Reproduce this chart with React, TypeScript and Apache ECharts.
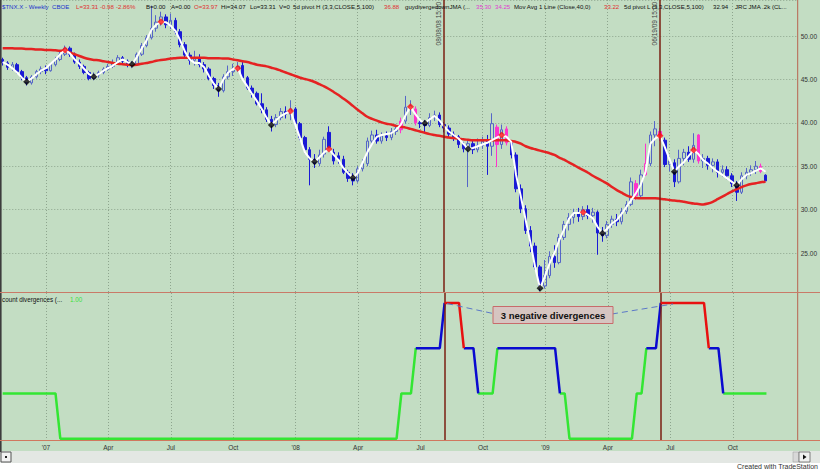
import React, { useEffect, useRef } from 'react';
import * as echarts from 'echarts';

// ---- categories (weekly bars, Fridays) ----
const START = Date.UTC(2006, 10, 3);
const N_CATS = 166; // 160 bars + empty space on the right
const categories: string[] = [];
for (let i = 0; i < N_CATS; i++) {
  categories.push(new Date(START + i * 7 * 86400000).toISOString().slice(0, 10));
}

const quarterLabels: Record<string, string> = {
  '2007-01-05': "'07", '2007-04-06': 'Apr', '2007-07-06': 'Jul', '2007-10-05': 'Oct',
  '2008-01-04': "'08", '2008-04-04': 'Apr', '2008-07-04': 'Jul', '2008-10-03': 'Oct',
  '2009-01-02': "'09", '2009-04-03': 'Apr', '2009-07-03': 'Jul', '2009-10-02': 'Oct',
};

// ---- weekly candles [open, close, low, high] ----
const candles: number[][] = [
  [47.3, 46.9, 46.6, 47.5], [46.9, 46.4, 46.1, 47.1], [46.4, 46.7, 46.0, 47.0], [46.7, 45.9, 45.7, 46.9], [45.9, 45.2, 44.9, 46.1],
  [45.2, 44.6, 44.3, 45.4], [44.6, 45.3, 44.4, 45.5], [45.3, 45.9, 45.1, 46.1], [45.9, 46.2, 45.6, 46.5], [46.2, 46.0, 45.6, 46.6],
  [46.0, 46.7, 45.9, 46.9], [46.7, 47.3, 46.5, 47.6], [47.3, 47.9, 47.1, 48.2], [47.9, 48.6, 47.7, 48.9], [48.6, 47.9, 47.6, 48.8],
  [47.9, 47.0, 46.8, 48.1], [47.0, 46.5, 46.2, 47.3], [46.5, 45.8, 45.6, 46.7], [45.8, 45.1, 44.9, 46.0], [45.1, 45.5, 44.9, 45.8],
  [45.5, 45.8, 45.2, 46.0], [45.8, 46.2, 45.6, 46.4], [46.2, 46.5, 46.0, 46.8], [46.5, 46.9, 46.3, 47.3], [46.9, 47.5, 46.7, 47.8],
  [47.5, 47.1, 46.8, 47.7], [47.1, 46.7, 46.4, 47.3], [46.7, 46.8, 46.3, 47.1], [46.8, 47.9, 46.6, 48.1], [47.9, 48.9, 47.7, 49.2],
  [48.9, 49.8, 48.7, 50.1], [49.8, 50.9, 49.6, 53.5], [50.9, 51.6, 50.5, 52.4], [51.6, 52.2, 51.2, 52.8], [52.2, 51.3, 50.9, 52.5],
  [51.3, 51.8, 50.8, 52.6], [51.8, 50.5, 50.2, 52.1], [50.5, 49.0, 48.7, 50.8], [49.0, 47.8, 47.4, 49.3], [47.8, 47.2, 46.7, 48.1],
  [47.2, 47.4, 46.6, 48.3], [47.4, 46.7, 46.4, 47.9], [46.7, 46.2, 45.8, 47.0], [46.2, 45.1, 44.9, 46.4], [45.1, 44.3, 43.9, 45.3],
  [44.3, 43.7, 43.0, 44.6], [43.7, 45.3, 43.5, 45.6], [45.3, 45.9, 45.0, 46.6], [45.9, 46.2, 45.4, 46.8], [46.2, 46.5, 45.9, 47.0],
  [46.6, 45.2, 45.0, 47.0], [45.2, 44.0, 43.8, 45.4], [44.0, 43.4, 42.9, 44.3], [43.4, 42.2, 42.0, 43.6], [42.2, 41.5, 41.1, 43.4],
  [41.5, 40.4, 40.1, 41.8], [40.4, 39.8, 39.0, 40.8], [39.8, 40.6, 39.5, 41.0], [40.6, 41.3, 40.3, 41.7], [41.3, 41.0, 40.5, 41.9],
  [41.0, 41.6, 40.3, 42.6], [41.6, 39.9, 39.6, 41.8], [39.9, 38.3, 38.0, 40.1], [38.3, 36.9, 36.5, 38.5], [36.9, 35.8, 32.8, 37.2],
  [35.8, 35.3, 34.8, 36.4], [35.3, 36.3, 35.0, 36.9], [36.4, 38.1, 36.0, 38.4], [38.9, 37.2, 36.9, 39.6], [36.6, 35.6, 35.2, 37.0],
  [36.2, 35.8, 35.3, 36.6], [35.8, 34.3, 34.1, 36.2], [34.3, 33.6, 33.2, 34.6], [33.6, 33.3, 32.8, 34.2], [33.3, 34.7, 33.1, 35.0],
  [34.7, 35.3, 34.4, 35.8], [35.3, 37.9, 35.0, 38.3], [37.9, 38.6, 37.4, 39.1], [38.6, 37.9, 37.6, 39.2], [37.9, 38.5, 37.6, 38.9],
  [38.5, 38.3, 37.9, 39.0], [38.3, 39.0, 38.0, 39.4], [39.0, 39.3, 38.6, 39.8], [39.2, 40.2, 38.8, 40.6], [40.2, 41.8, 39.9, 43.1],
  [41.8, 42.0, 40.9, 42.6], [41.6, 40.0, 39.7, 41.9], [40.0, 39.9, 39.4, 40.6], [39.9, 39.7, 38.9, 40.3], [39.7, 40.6, 39.5, 41.1],
  [40.6, 40.9, 40.2, 41.4], [40.9, 39.8, 39.5, 41.2], [39.8, 39.4, 38.9, 40.1], [39.4, 38.7, 38.3, 39.7], [38.7, 38.4, 37.9, 39.0],
  [38.4, 37.5, 37.1, 38.6], [37.5, 37.0, 36.6, 37.8], [37.0, 37.6, 32.6, 37.9], [37.6, 36.9, 36.4, 37.9], [36.9, 37.4, 36.6, 38.2],
  [37.4, 37.9, 37.0, 38.4], [37.9, 37.3, 34.0, 38.6], [37.3, 39.9, 36.2, 41.1], [39.5, 37.5, 34.9, 39.8], [37.5, 39.2, 37.0, 39.8],
  [39.3, 37.7, 37.4, 39.6], [37.7, 36.3, 35.9, 38.0], [36.3, 32.4, 32.0, 36.6], [32.4, 30.1, 29.6, 32.9], [30.1, 27.6, 27.2, 30.5],
  [27.6, 25.8, 25.1, 28.1], [25.8, 23.4, 23.1, 26.2], [23.4, 21.2, 20.6, 23.6], [21.2, 22.4, 20.9, 24.2], [22.4, 24.6, 22.1, 25.2],
  [24.6, 23.9, 23.3, 25.9], [23.9, 26.8, 23.7, 27.2], [26.8, 28.3, 26.5, 28.7], [28.3, 29.1, 27.6, 29.6], [29.1, 29.6, 28.4, 30.1],
  [29.6, 29.2, 28.6, 30.2], [29.2, 30.0, 28.8, 30.4], [30.0, 29.3, 28.9, 30.5], [29.3, 29.7, 28.5, 30.2], [29.7, 27.3, 24.8, 29.9],
  [27.3, 27.0, 26.3, 28.0], [27.0, 28.3, 26.7, 28.7], [28.3, 28.9, 27.9, 29.3], [28.9, 28.6, 28.1, 29.5], [28.6, 29.8, 28.3, 30.2],
  [29.8, 30.6, 29.5, 31.0], [30.6, 33.2, 30.4, 33.7], [33.0, 31.6, 31.1, 33.4], [31.6, 34.0, 31.4, 34.6], [34.0, 35.3, 33.9, 37.6],
  [35.3, 38.6, 35.0, 39.0], [38.6, 39.3, 37.3, 40.2], [39.0, 38.5, 37.9, 39.4], [38.0, 35.2, 34.9, 38.3], [35.2, 35.6, 34.4, 36.2],
  [35.4, 33.2, 32.6, 35.8], [33.2, 35.9, 33.0, 36.9], [35.9, 36.6, 35.1, 37.0], [36.6, 35.8, 35.5, 37.3], [35.8, 37.4, 35.4, 38.8],
  [38.6, 35.6, 35.3, 38.7], [35.6, 35.9, 34.8, 36.4], [35.9, 35.1, 34.6, 36.2], [35.1, 35.5, 34.3, 35.9], [35.5, 34.3, 33.7, 35.8],
  [34.3, 34.6, 33.8, 35.1], [34.6, 33.9, 33.5, 35.0], [33.9, 33.0, 32.6, 34.2], [33.0, 32.0, 31.0, 33.3], [32.0, 33.9, 31.8, 34.3],
  [33.9, 34.3, 33.5, 34.8], [34.3, 34.6, 33.9, 35.1], [34.6, 35.0, 34.1, 35.6], [35.0, 34.4, 34.2, 35.3], [33.97, 33.31, 33.31, 34.07],
];

// bars painted magenta by the divergence study
const pinkBars = [83, 86, 103, 105, 132, 134, 137, 145, 158];

// ---- JMA (white smoothed line) ----
const jma = [
  47.0, 46.7, 46.3, 45.8, 45.2, 44.74, 45.1, 45.6, 46.0, 46.3,
  46.8, 47.3, 47.9, 48.4, 48.0, 47.3, 46.8, 46.2, 45.6, 45.3,
  45.6, 46.0, 46.3, 46.6, 47.0, 47.3, 47.0, 46.74, 47.6, 48.6,
  49.5, 50.7, 51.3, 51.65, 51.6, 51.2, 50.6, 49.5, 48.2, 47.3,
  46.9, 46.9, 46.4, 45.4, 44.5, 43.9, 45.0, 45.8, 46.2, 46.3,
  45.0, 44.2, 43.3, 42.5, 41.6, 40.6, 39.75, 40.3, 40.8, 41.1,
  41.36, 39.8, 38.2, 36.6, 35.9, 35.52, 36.0, 36.6, 36.98, 36.3,
  35.7, 34.8, 34.2, 33.68, 34.2, 35.4, 36.6, 37.6, 38.4, 38.6,
  38.7, 38.8, 39.2, 39.8, 40.9, 41.86, 41.0, 40.3, 39.94, 40.4,
  40.8, 40.3, 39.6, 39.0, 38.6, 38.2, 37.6, 36.98, 37.1, 37.3,
  37.5, 37.7, 38.0, 38.3, 38.6, 38.4, 37.8, 34.0, 31.5, 28.8,
  26.2, 23.3, 20.93, 22.3, 23.8, 25.0, 26.5, 27.7, 28.9, 29.6,
  29.6, 29.7, 29.4, 29.0, 28.0, 27.27, 27.8, 28.4, 28.8, 29.5,
  30.3, 31.1, 31.9, 32.9, 34.37, 37.6, 38.2, 38.5, 37.2, 35.8,
  34.37, 35.0, 35.5, 36.2, 36.87, 36.4, 35.7, 35.3, 34.8, 34.37,
  34.0, 33.6, 33.2, 32.8, 33.5, 34.0, 34.2, 34.5, 34.76, 34.37,
];

// ---- 40-week moving average ----
const ma40 = [
  48.6, 48.6, 48.6, 48.55, 48.55, 48.5, 48.5, 48.45, 48.45, 48.4,
  48.4, 48.35, 48.3, 48.3, 48.1, 47.9, 47.7, 47.5, 47.35, 47.25,
  47.2, 47.1, 47.0, 46.9, 46.8, 46.75, 46.7, 46.65, 46.7, 46.8,
  46.9, 47.0, 47.15, 47.25, 47.3, 47.4, 47.45, 47.5, 47.5, 47.5,
  47.5, 47.5, 47.5, 47.45, 47.45, 47.45, 47.4, 47.4, 47.3, 47.2,
  47.1, 47.0, 46.85, 46.7, 46.6, 46.5, 46.35, 46.2, 46.0, 45.8,
  45.6, 45.4, 45.2, 45.05, 44.9, 44.7, 44.45, 44.2, 43.9, 43.55,
  43.2, 42.8, 42.4, 41.95, 41.5, 41.1, 40.7, 40.45, 40.25, 40.05,
  39.9, 39.8, 39.65, 39.55, 39.45, 39.3, 39.15, 39.0, 38.85, 38.7,
  38.6, 38.5, 38.4, 38.3, 38.25, 38.2, 38.1, 38.05, 38.0, 38.0,
  38.0, 38.0, 38.0, 38.0, 38.0, 38.0, 37.9, 37.8, 37.6, 37.3,
  37.1, 36.95, 36.8, 36.65, 36.5, 36.3, 36.0, 35.75, 35.45, 35.15,
  34.85, 34.55, 34.25, 33.9, 33.6, 33.3, 33.0, 32.6, 32.25, 31.95,
  31.65, 31.45, 31.35, 31.3, 31.3, 31.3, 31.3, 31.25, 31.2, 31.1,
  31.05, 31.0, 30.9, 30.8, 30.7, 30.65, 30.6, 30.7, 30.9, 31.2,
  31.5, 31.8, 32.1, 32.35, 32.6, 32.8, 32.95, 33.05, 33.15, 33.22,
];

// ---- pivots [bar index, value] ----
const pivotHighs = [[13, 48.4], [33, 51.65], [49, 46.3], [60, 41.36], [68, 36.98], [85, 41.86], [104, 38.6], [121, 29.7], [137, 38.5], [144, 36.87]];
const pivotLows = [[5, 44.74], [19, 45.3], [27, 46.74], [45, 43.9], [56, 39.75], [65, 35.52], [73, 33.68], [88, 39.94], [97, 36.98], [112, 20.93], [125, 27.27], [140, 34.37], [153, 32.8]];

// ---- count divergences (lower pane) ----
const divCount = [
  1, 1, 1, 1, 1, 1, 1, 1, 1, 1,
  1, 1, 0, 0, 0, 0, 0, 0, 0, 0,
  0, 0, 0, 0, 0, 0, 0, 0, 0, 0,
  0, 0, 0, 0, 0, 0, 0, 0, 0, 0,
  0, 0, 0, 0, 0, 0, 0, 0, 0, 0,
  0, 0, 0, 0, 0, 0, 0, 0, 0, 0,
  0, 0, 0, 0, 0, 0, 0, 0, 0, 0,
  0, 0, 0, 0, 0, 0, 0, 0, 0, 0,
  0, 0, 0, 1, 1, 1, 2, 2, 2, 2,
  2, 2, 3, 3, 3, 3, 2, 2, 2, 1,
  1, 1, 1, 2, 2, 2, 2, 2, 2, 2,
  2, 2, 2, 2, 2, 2, 1, 1, 0, 0,
  0, 0, 0, 0, 0, 0, 0, 0, 0, 0,
  0, 0, 1, 1, 2, 2, 2, 3, 3, 3,
  3, 3, 3, 3, 3, 3, 3, 2, 2, 2,
  1, 1, 1, 1, 1, 1, 1, 1, 1, 1,
];

const divergenceDates = [
  { date: '2008-08-08', label: '08/08/08 15:00' },
  { date: '2009-06-19', label: '06/19/09 15:00' },
];

const lastClose = 33.31;
const lastJmaLabel = 34.15;

const FONT = 'Liberation Sans, Arial, sans-serif';
const BG = '#C3DDC3';
const GRIDC = '#8EA58E';

const levelColor = (v: number) => (v <= 1 ? 'g' : v === 2 ? 'b' : 'r');
function segSeries(key: string) {
  return divCount.map((v, j) =>
    levelColor(v) === key || (j > 0 && levelColor(divCount[j - 1]) === key) ? v : null
  );
}

const header: { x: number; t: string; c: string }[] = [
  { x: 2, t: '$TNX.X - Weekly', c: '#2233CC' },
  { x: 52, t: 'CBOE', c: '#2233CC' },
  { x: 76, t: 'L=33.31', c: '#E03030' },
  { x: 100, t: '-0.98', c: '#E03030' },
  { x: 116, t: '-2.86%', c: '#E03030' },
  { x: 146, t: 'B=0.00', c: '#111' },
  { x: 171, t: 'A=0.00', c: '#111' },
  { x: 194, t: 'O=33.97', c: '#E03030' },
  { x: 221, t: 'Hi=34.07', c: '#111' },
  { x: 250, t: 'Lo=33.31', c: '#111' },
  { x: 279, t: 'V=0', c: '#111' },
  { x: 293, t: '5d pivot H (3,3,CLOSE,5,100)', c: '#111' },
  { x: 384, t: '36.88', c: '#E03030' },
  { x: 405, t: 'guydivergedownJMA (...', c: '#111' },
  { x: 476, t: '35.30', c: '#E040D0' },
  { x: 495, t: '34.25', c: '#E040D0' },
  { x: 514, t: 'Mov Avg 1 Line (Close,40,0)', c: '#111' },
  { x: 604, t: '33.22', c: '#E03030' },
  { x: 624, t: '5d pivot L (3,3,CLOSE,5,100)', c: '#111' },
  { x: 713, t: '32.94', c: '#111' },
  { x: 735, t: 'JRC JMA .2k (CL...', c: '#111' },
];

export default function App() {
  const ref = useRef<HTMLDivElement>(null);

  useEffect(() => {
    const chart = echarts.init(ref.current!, null, { renderer: 'svg' });

    const candleData = candles.map((c, i) =>
      pinkBars.includes(i)
        ? {
            value: c,
            itemStyle: {
              color: i === 134 ? 'rgba(0,0,0,0)' : '#FF33CC',
              color0: '#FF33CC',
              borderColor: '#FF33CC',
              borderColor0: '#FF33CC',
            },
          }
        : c
    );

    const showQuarter = (_i: number, v: string) => quarterLabels[v] !== undefined;

    const xBase = {
      type: 'category' as const,
      data: categories,
      boundaryGap: true,
      axisTick: { show: false },
      axisLine: { show: false },
      splitLine: {
        show: true,
        interval: showQuarter,
        alignWithLabel: true,
        lineStyle: { color: GRIDC, type: [1, 2], width: 1 },
      },
    };

    const option: any = {
      animation: false,
      backgroundColor: BG,
      textStyle: { fontFamily: FONT },
      grid: [
        { left: 0.27, top: 0, width: 797.4, height: 292 },
        { left: 0.27, top: 293, width: 797.4, height: 147 },
      ],
      xAxis: [
        { ...xBase, gridIndex: 0, axisLabel: { show: false } },
        {
          ...xBase,
          gridIndex: 1,
          axisLabel: {
            show: true,
            interval: showQuarter,
            formatter: (v: string) => quarterLabels[v] || '',
            fontSize: 6.5,
            color: '#333',
            margin: 4,
            fontFamily: FONT,
          },
        },
      ],
      yAxis: [
        {
          type: 'value',
          gridIndex: 0,
          position: 'right',
          min: 20.51,
          max: 54.15,
          splitNumber: 5,
          axisLine: { show: false },
          axisTick: { show: false },
          axisLabel: {
            formatter: (v: number) => v.toFixed(2),
            showMinLabel: false,
            showMaxLabel: false,
            fontSize: 6.5,
            color: '#333',
            margin: 4,
            fontFamily: FONT,
          },
          splitLine: { show: true, lineStyle: { color: GRIDC, type: [1, 2], width: 1 } },
        },
        {
          type: 'value',
          gridIndex: 1,
          position: 'right',
          min: -0.03,
          max: 3.22,
          axisLine: { show: false },
          axisTick: { show: false },
          axisLabel: { show: false },
          splitLine: { show: false },
        },
      ],
      series: [
        {
          type: 'candlestick',
          xAxisIndex: 0,
          yAxisIndex: 0,
          data: candleData,
          barWidth: 3,
          z: 2,
          itemStyle: {
            color: 'rgba(0,0,0,0)',
            color0: '#1A1AD6',
            borderColor: '#5565C8',
            borderColor0: '#1A1AD6',
            borderWidth: 1,
          },
          markLine: {
            silent: true,
            symbol: ['none', 'none'],
            animation: false,
            data: [
              ...divergenceDates.map((d) => ({
                xAxis: d.date,
                lineStyle: { color: '#7A1E12', width: 1.5, type: 'solid' },
                label: {
                  show: true,
                  position: 'insideEndTop',
                  formatter: d.label,
                  fontSize: 6.5,
                  color: '#444',
                  distance: 2,
                  fontFamily: FONT,
                },
              })),
              {
                yAxis: lastClose,
                lineStyle: { opacity: 0 },
                label: {
                  show: true,
                  position: 'end',
                  formatter: lastClose.toFixed(2),
                  backgroundColor: '#1010E0',
                  color: '#FFFFFF',
                  fontSize: 6.5,
                  padding: [0, 3],
                  distance: 1,
                  fontFamily: FONT,
                },
              },
              {
                yAxis: lastJmaLabel,
                lineStyle: { opacity: 0 },
                label: {
                  show: true,
                  position: 'end',
                  formatter: lastJmaLabel.toFixed(2),
                  backgroundColor: '#F4F4F4',
                  color: '#D0D0D0',
                  fontSize: 5,
                  padding: [0, 3],
                  distance: 1,
                  fontFamily: FONT,
                },
              },
            ],
          },
        },
        {
          type: 'line',
          name: 'MA40',
          xAxisIndex: 0,
          yAxisIndex: 0,
          data: ma40,
          showSymbol: false,
          smooth: 0.3,
          z: 3,
          lineStyle: { color: '#E52222', width: 2.5 },
        },
        {
          type: 'line',
          name: 'JMA',
          xAxisIndex: 0,
          yAxisIndex: 0,
          data: jma,
          showSymbol: false,
          z: 4,
          lineStyle: { color: '#FFFFFF', width: 2 },
        },
        {
          type: 'scatter',
          xAxisIndex: 0,
          yAxisIndex: 0,
          data: pivotHighs,
          symbol: 'diamond',
          symbolSize: 7,
          z: 5,
          itemStyle: { color: '#FF1010' },
        },
        {
          type: 'scatter',
          xAxisIndex: 0,
          yAxisIndex: 0,
          data: pivotLows,
          symbol: 'diamond',
          symbolSize: 7,
          z: 5,
          itemStyle: { color: '#000000' },
        },
        ...[
          { key: 'g', color: '#33E633' },
          { key: 'b', color: '#0A0AD0' },
          { key: 'r', color: '#E81010' },
        ].map((s, k) => ({
          type: 'line',
          xAxisIndex: 1,
          yAxisIndex: 1,
          data: segSeries(s.key),
          showSymbol: false,
          connectNulls: false,
          z: 3 + k,
          lineStyle: { color: s.color, width: 2.5 },
          markLine:
            k === 0
              ? {
                  silent: true,
                  symbol: ['none', 'none'],
                  animation: false,
                  label: { show: false },
                  data: divergenceDates.map((d) => ({
                    xAxis: d.date,
                    lineStyle: { color: '#7A1E12', width: 1.5, type: 'solid' },
                  })),
                }
              : undefined,
        })),
      ],
      graphic: [
        // bottom strip
        { type: 'rect', shape: { x: 0, y: 451, width: 820, height: 12 }, style: { fill: '#E3E7E3' }, z: 10 },
        { type: 'rect', shape: { x: 0, y: 463, width: 820, height: 8 }, style: { fill: '#FFFFFF' }, z: 10 },
        // borders
        { type: 'rect', shape: { x: 0, y: 0, width: 1.6, height: 452 }, style: { fill: '#3C3C3C' }, z: 11 },
        { type: 'line', shape: { x1: 797.7, y1: 0, x2: 797.7, y2: 440 }, style: { stroke: '#B8634F', lineWidth: 1 }, z: 11 },
        { type: 'line', shape: { x1: 0, y1: 292.5, x2: 820, y2: 292.5 }, style: { stroke: '#C97A68', lineWidth: 1 }, z: 11 },
        { type: 'line', shape: { x1: 0, y1: 440.5, x2: 820, y2: 440.5 }, style: { stroke: '#D0785E', lineWidth: 1 }, z: 11 },
        // small widgets
        { type: 'rect', shape: { x: 1, y: 452, width: 10, height: 10 }, style: { fill: '#F2F2F2', stroke: '#555', lineWidth: 1 }, z: 12 },
        { type: 'rect', shape: { x: 5, y: 456, width: 2, height: 2 }, style: { fill: '#222' }, z: 13 },
        { type: 'rect', shape: { x: 793, y: 452, width: 6, height: 10 }, style: { fill: '#D8D8D8', stroke: '#999', lineWidth: 0.5 }, z: 12 },
        { type: 'rect', shape: { x: 799, y: 452, width: 11, height: 10 }, style: { fill: '#F0F0F0', stroke: '#666', lineWidth: 0.8 }, z: 12 },
        { type: 'polygon', shape: { points: [[803, 454.5], [803, 459.5], [806.5, 457]] }, style: { fill: '#111' }, z: 13 },
        {
          type: 'text', x: 818, y: 466, z: 13,
          style: { text: 'Created with TradeStation', fill: '#333', font: `7px ${FONT}`, align: 'right', verticalAlign: 'middle' },
        },
        // header legend
        ...header.map((h) => ({
          type: 'text', x: h.x, y: 6, z: 20,
          style: { text: h.t, fill: h.c, font: `6.1px ${FONT}`, align: 'left', verticalAlign: 'middle' },
        })),
        // lower pane title
        {
          type: 'text', x: 2, y: 299, z: 20,
          style: { text: 'count divergences (...', fill: '#111', font: `6.3px ${FONT}`, align: 'left', verticalAlign: 'middle' },
        },
        {
          type: 'text', x: 70, y: 299, z: 20,
          style: { text: '1.00', fill: '#3CE03C', font: `6.3px ${FONT}`, align: 'left', verticalAlign: 'middle' },
        },
        // annotation
        { type: 'line', shape: { x1: 447, y1: 303.5, x2: 493, y2: 313.5 }, style: { stroke: '#5B78C8', lineWidth: 1, lineDash: [6, 4] }, z: 20 },
        { type: 'line', shape: { x1: 612, y1: 314, x2: 673, y2: 304 }, style: { stroke: '#5B78C8', lineWidth: 1, lineDash: [6, 4] }, z: 20 },
        {
          type: 'rect', shape: { x: 493, y: 306.5, width: 120, height: 17 }, z: 21,
          style: { fill: '#D6C5C1', stroke: '#C86B6B', lineWidth: 1 },
        },
        {
          type: 'text', x: 553, y: 315, z: 22,
          style: { text: '3 negative divergences', fill: '#111', font: `bold 9.5px ${FONT}`, align: 'center', verticalAlign: 'middle' },
        },
      ],
    };

    chart.setOption(option);
    return () => chart.dispose();
  }, []);

  return (
    <div
      ref={ref}
      style={{ position: 'absolute', left: 0, top: 0, width: 820, height: 471 }}
    />
  );
}
